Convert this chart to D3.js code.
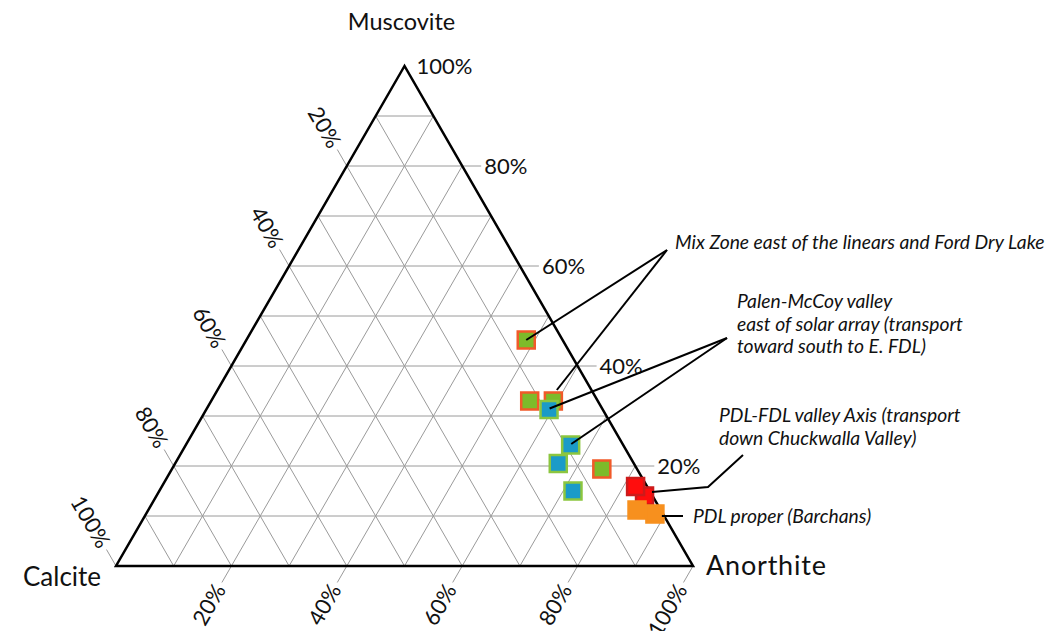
<!DOCTYPE html>
<html>
<head>
<meta charset="utf-8">
<script src="https://cdn.jsdelivr.net/npm/d3@7"></script>
<style>
	body { margin: 0; background: #fff; }
	svg { display: block; }
	text { font-family: Lato, "Liberation Sans", sans-serif; fill: #111; }
	.note { font-style: italic; font-size: 19.3px; }
	.tick-label { font-size: 22px; }
</style>
</head>
<body>
<svg width="1062" height="631"></svg>
<script>
// sample values (fractions)
const muscovite = [0.452, 0.330, 0.330, 0.194, 0.313, 0.242, 0.205, 0.150, 0.140, 0.159, 0.112, 0.104];
const anorthite = [0.485, 0.552, 0.593, 0.745, 0.594, 0.667, 0.664, 0.717, 0.846, 0.821, 0.847, 0.882];
const calcite   = muscovite.map((m, i) => +(1 - m - anorthite[i]).toFixed(3));
const group     = ["mix", "mix", "mix", "mix", "palen", "palen", "palen", "palen", "pdlfdl", "pdlfdl", "pdl", "pdl"];

const tickValues = [20, 40, 60, 80, 100];
const gridSteps = [0.1, 0.2, 0.3, 0.4, 0.5, 0.6, 0.7, 0.8, 0.9];

const groupStyle = {
	mix:    { fill: "#7dbb2a", stroke: "#f15a29" },
	palen:  { fill: "#1b9bc8", stroke: "#8cc63f" },
	pdlfdl: { fill: "#ff0d0d", stroke: "#cc1b1b" },
	pdl:    { fill: "#f7901e", stroke: "#f7901e" }
};

// annotations: label lines + leader targets as [muscovite, anorthite]
const notes = [
	{ lines: ["Mix Zone east of the linears and Ford Dry Lake"], x: 675, y: 249,
		apex: [667, 250], targets: [[0.452, 0.485], [0.352, 0.588]] },
	{ lines: ["Palen-McCoy valley", "east of solar array (transport", "toward south to E. FDL)"], x: 737, y: 308,
		apex: [727, 338], targets: [[0.315, 0.594], [0.244, 0.667]] },
	{ lines: ["PDL-FDL valley Axis (transport", "down Chuckwalla Valley)"], x: 719, y: 422,
		apex: [743, 455], bend: [708, 487], targets: [[0.148, 0.855]] },
	{ lines: ["PDL proper (Barchans)"], x: 693, y: 523,
		apex: [683, 516], targets: [[0.100, 0.896]] }
];

const svg = d3.select("svg");

// x runs along the base (anorthite + muscovite/2), y is muscovite height
const x = d3.scaleLinear().domain([0, 1]).range([116, 693]);
const y = d3.scaleLinear().domain([0, 1]).range([566, 66]);

function project(m, a) {
	return [x(a + m / 2), y(m)];
}

const line = d3.line();

//grid
const grid = svg.append("g")
	.attr("stroke", "#9a9a9a")
	.attr("stroke-width", 1)
	.attr("fill", "none");

gridSteps.forEach(function(t) {
	// constant muscovite (horizontal)
	grid.append("path").attr("d", line([project(t, 0), project(t, 1 - t)]));
	// constant anorthite (parallel to left side)
	grid.append("path").attr("d", line([project(0, t), project(1 - t, t)]));
	// constant calcite (parallel to right side)
	grid.append("path").attr("d", line([project(0, 1 - t), project(1 - t, 0)]));
});

//ticks and tick labels
const tickLen = 19;
const ticks = svg.append("g").attr("stroke", "#9a9a9a").attr("stroke-width", 1);
const labels = svg.append("g").attr("class", "tick-label");

tickValues.forEach(function(v) {
	const t = v / 100;

	// muscovite, right side
	const pr = project(t, 1 - t);
	if (v < 100) ticks.append("line").attr("x1", pr[0]).attr("y1", pr[1]).attr("x2", pr[0] + tickLen).attr("y2", pr[1]);
	labels.append("text")
		.attr("x", pr[0] + (v < 100 ? tickLen + 3 : 12))
		.attr("y", pr[1])
		.attr("dy", "0.35em")
		.text(v + "%");

	// calcite, left side
	const pl = project(1 - t, 0);
	const dl = [-0.5, -0.866];
	const el = [pl[0] + dl[0] * tickLen, pl[1] + dl[1] * tickLen];
	ticks.append("line").attr("x1", pl[0]).attr("y1", pl[1]).attr("x2", el[0]).attr("y2", el[1]);
	labels.append("text")
		.attr("transform", `translate(${el[0] + dl[0] * 4},${el[1] + dl[1] * 4}) rotate(60)`)
		.attr("text-anchor", "end")
		.attr("dy", "0.35em")
		.text(v + "%");

	// anorthite, base
	const pb = project(0, t);
	const db = [-0.5, 0.866];
	const eb = [pb[0] + db[0] * tickLen, pb[1] + db[1] * tickLen];
	ticks.append("line").attr("x1", pb[0]).attr("y1", pb[1]).attr("x2", eb[0]).attr("y2", eb[1]);
	labels.append("text")
		.attr("transform", `translate(${eb[0] + db[0] * 4},${eb[1] + db[1] * 4}) rotate(-60)`)
		.attr("text-anchor", "end")
		.attr("dy", "0.35em")
		.text(v + "%");
});

//outline
svg.append("path")
	.attr("d", line([project(1, 0), project(0, 0), project(0, 1)]) + "Z")
	.attr("fill", "none")
	.attr("stroke", "#000")
	.attr("stroke-width", 2.5)
	.attr("stroke-linejoin", "miter");

//axis titles
svg.append("text")
	.attr("x", project(1, 0)[0] - 3).attr("y", 30)
	.attr("text-anchor", "middle")
	.style("font-size", "23.5px")
	.text("Muscovite");
svg.append("text")
	.attr("x", 23).attr("y", 586)
	.style("font-size", "26px")
	.text("Calcite");
svg.append("text")
	.attr("x", 706).attr("y", 575)
	.style("font-size", "27px")
	.style("letter-spacing", "0.8px")
	.text("Anorthite");

//samples
const size = 17;
const samples = muscovite.map((m, i) => ({ m: m, c: calcite[i], a: anorthite[i], g: group[i] }));

svg.append("g")
	.selectAll("rect")
	.data(samples)
	.enter().append("rect")
	.attr("x", d => project(d.m, d.a)[0] - size / 2)
	.attr("y", d => project(d.m, d.a)[1] - size / 2)
	.attr("width", size)
	.attr("height", size)
	.attr("fill", d => groupStyle[d.g].fill)
	.attr("stroke", d => groupStyle[d.g].stroke)
	.attr("stroke-width", 2.5);

//annotations
const ann = svg.append("g");

notes.forEach(function(n) {
	n.targets.forEach(function(t) {
		const pts = [n.apex];
		if (n.bend) pts.push(n.bend);
		pts.push(project(t[0], t[1]));
		ann.append("path")
			.attr("d", line(pts))
			.attr("fill", "none")
			.attr("stroke", "#000")
			.attr("stroke-width", 2);
	});

	const txt = ann.append("text").attr("class", "note");
	n.lines.forEach(function(s, i) {
		txt.append("tspan")
			.attr("x", n.x)
			.attr("y", n.y + i * 22.5)
			.text(s);
	});
});
</script>
</body>
</html>
